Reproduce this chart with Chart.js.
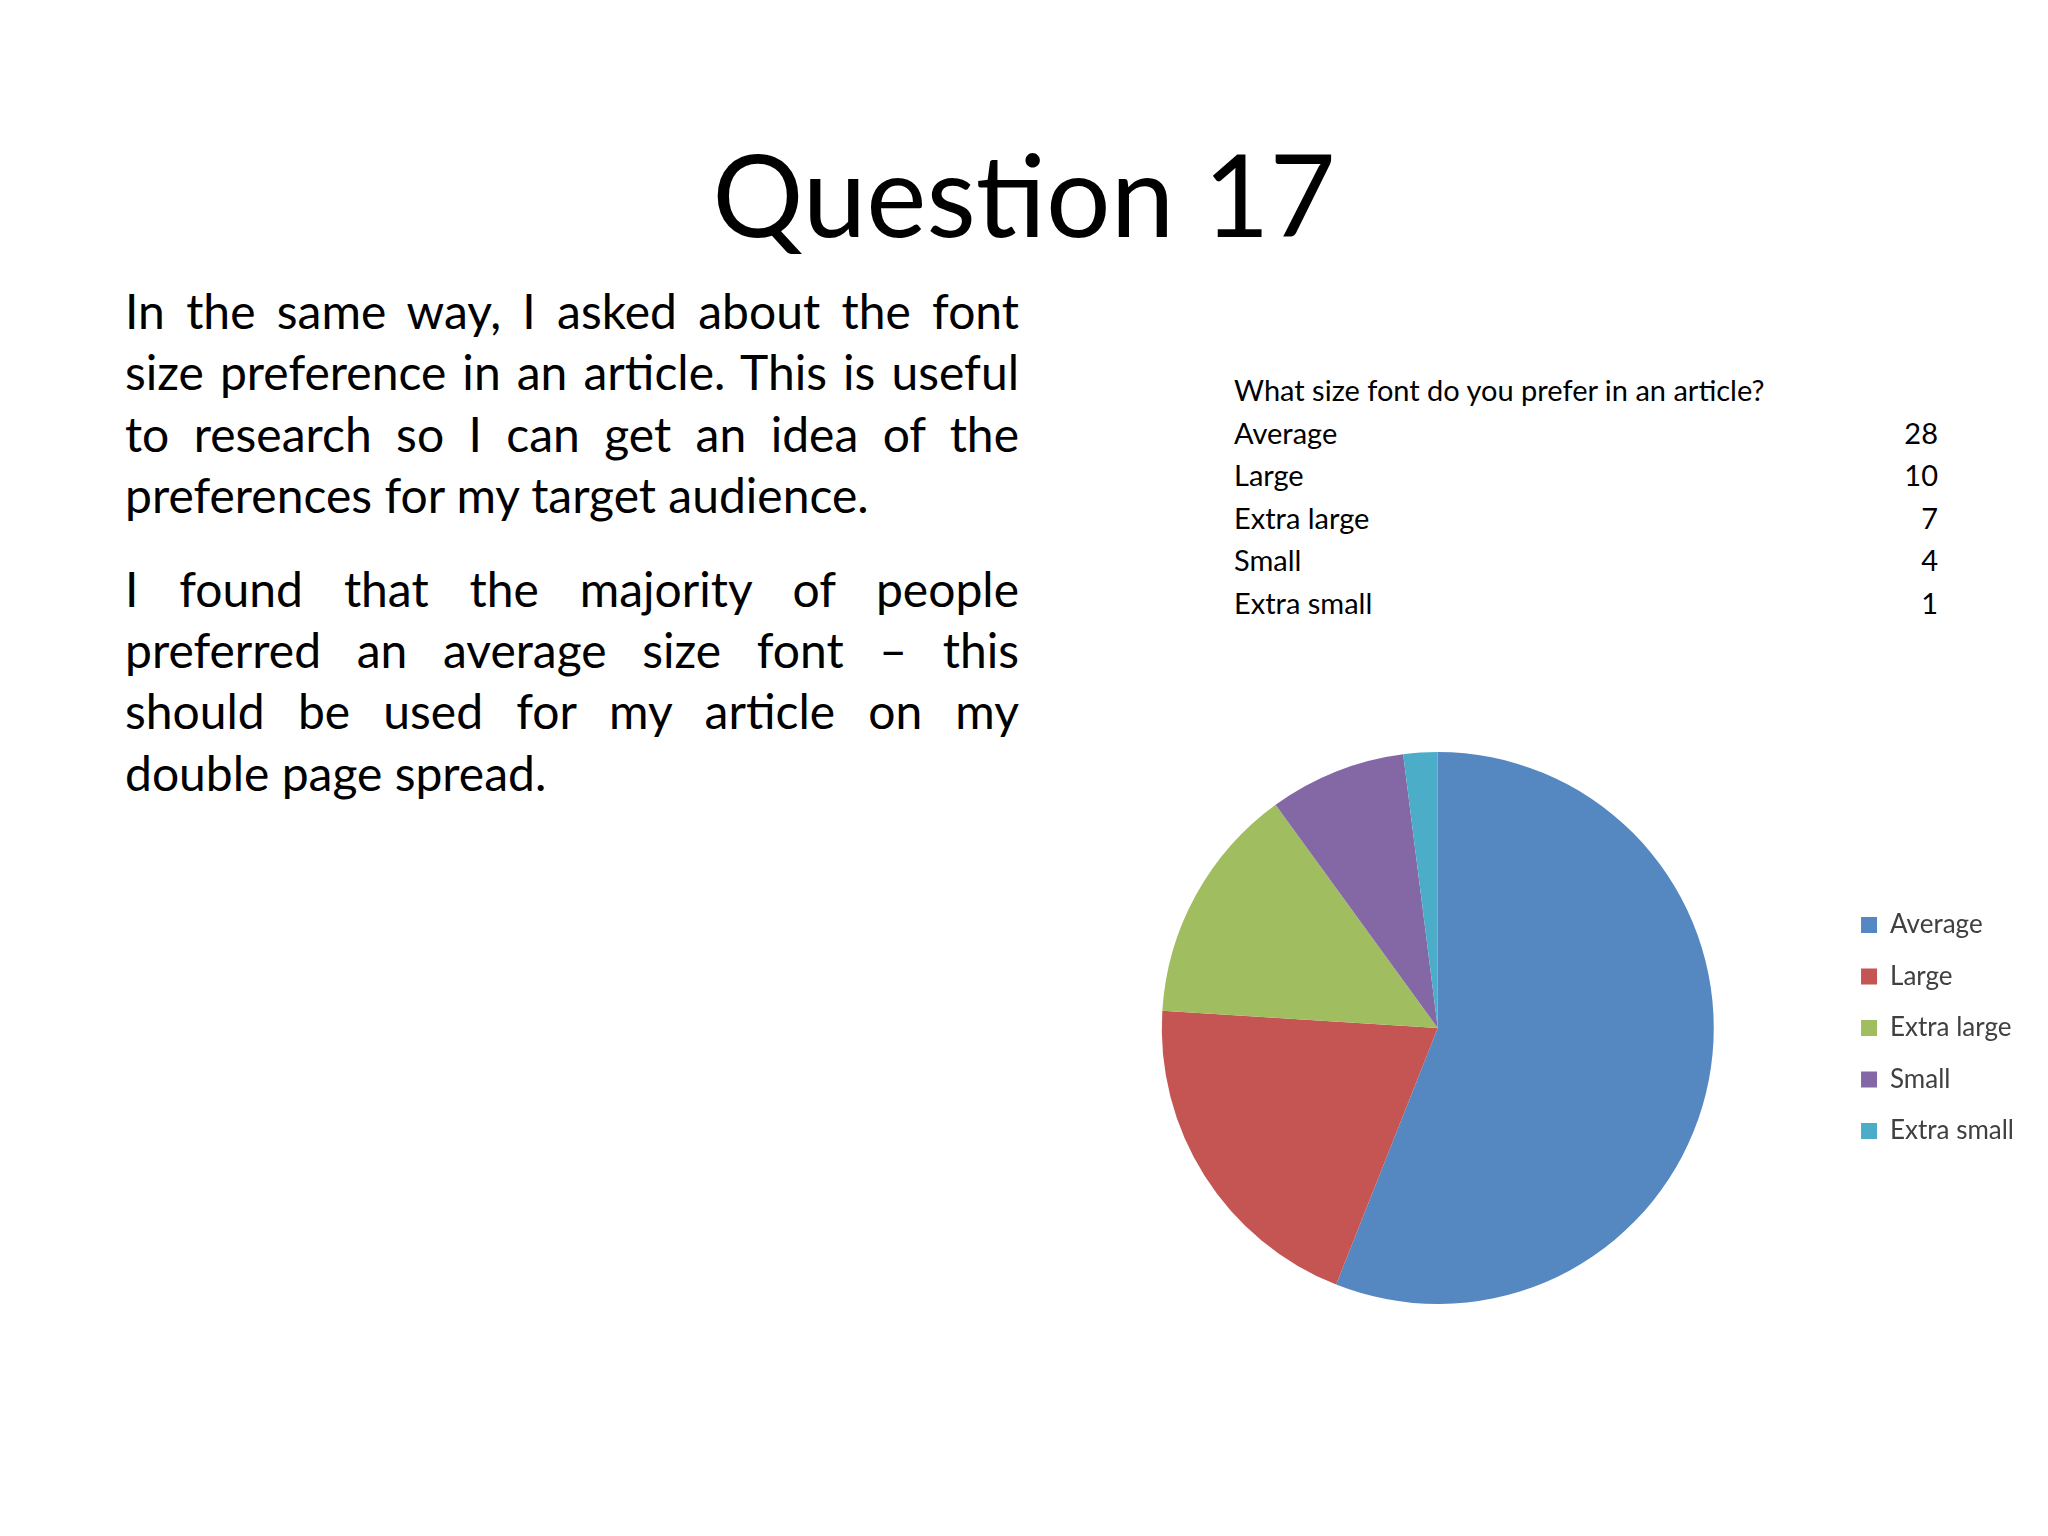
<!DOCTYPE html>
<html>
<head>
<meta charset="utf-8">
<script src="https://cdn.jsdelivr.net/npm/chart.js@4/dist/chart.umd.min.js"></script>
<style>
  body { margin: 0; width: 2048px; height: 1536px; background: #fff; position: relative; font-family: Lato, "Open Sans", sans-serif; color: #000; overflow: hidden; }
  #title { position: absolute; left: 0; width: 2048px; top: 124px; text-align: center; font-size: 114px; line-height: 137px; }
  #body { position: absolute; left: 125px; width: 894px; top: 280px; font-size: 48px; line-height: 61.4px; }
  #body .ln { text-align: justify; text-align-last: justify; white-space: nowrap; }
  #body .last { text-align: left; text-align-last: left; }
  #body .gap { height: 32px; }
  #tbl { position: absolute; left: 1234px; width: 704px; top: 369px; font-size: 29px; line-height: 42.6px; }
  #tbl .row { display: flex; justify-content: space-between; }
  #chartBox { position: absolute; left: 1040px; top: 740px; }
</style>
</head>
<body>
<div id="title">Question 17</div>
<div id="body">
  <div class="ln">In the same way, I asked about the font</div>
  <div class="ln">size preference in an article. This is useful</div>
  <div class="ln">to research so I can get an idea of the</div>
  <div class="ln last">preferences for my target audience.</div>
  <div class="gap"></div>
  <div class="ln">I found that the majority of people</div>
  <div class="ln">preferred an average size font – this</div>
  <div class="ln">should be used for my article on my</div>
  <div class="ln last">double page spread.</div>
</div>
<div id="tbl"></div>
<div id="chartBox"><canvas id="myChart" width="1008" height="576"></canvas></div>

<script>
const question = "What size font do you prefer in an article?";
const labels = ["Average", "Large", "Extra large", "Small", "Extra small"];
const votes = [28, 10, 7, 4, 1];
const colors = ["#5588c1", "#c45553", "#a0be60", "#8468a5", "#4badc7"];

// little data table above the pie
const tbl = document.getElementById("tbl");
let html = '<div>' + question + '</div>';
for (let i = 0; i < labels.length; i++) {
  html += '<div class="row"><span>' + labels[i] + '</span><span>' + votes[i] + '</span></div>';
}
tbl.innerHTML = html;

const data = {
  labels: labels,
  datasets: [
    {
      data: votes,
      backgroundColor: colors,
      borderWidth: 0,
    },
  ],
};

const config = {
  type: "pie",
  data,
  options: {
    responsive: false,
    animation: false,
    devicePixelRatio: 1,
    layout: {
      padding: { top: 12, bottom: 12, left: 0, right: 24 },
    },
    plugins: {
      tooltip: { enabled: false },
      legend: {
        position: "right",
        labels: {
          color: "#404040",
          boxWidth: 16,
          boxHeight: 16,
          padding: 25.5,
          font: { family: "Lato", size: 26 },
        },
      },
    },
  },
};

const myChart = new Chart(document.getElementById("myChart"), config);
</script>
</body>
</html>
